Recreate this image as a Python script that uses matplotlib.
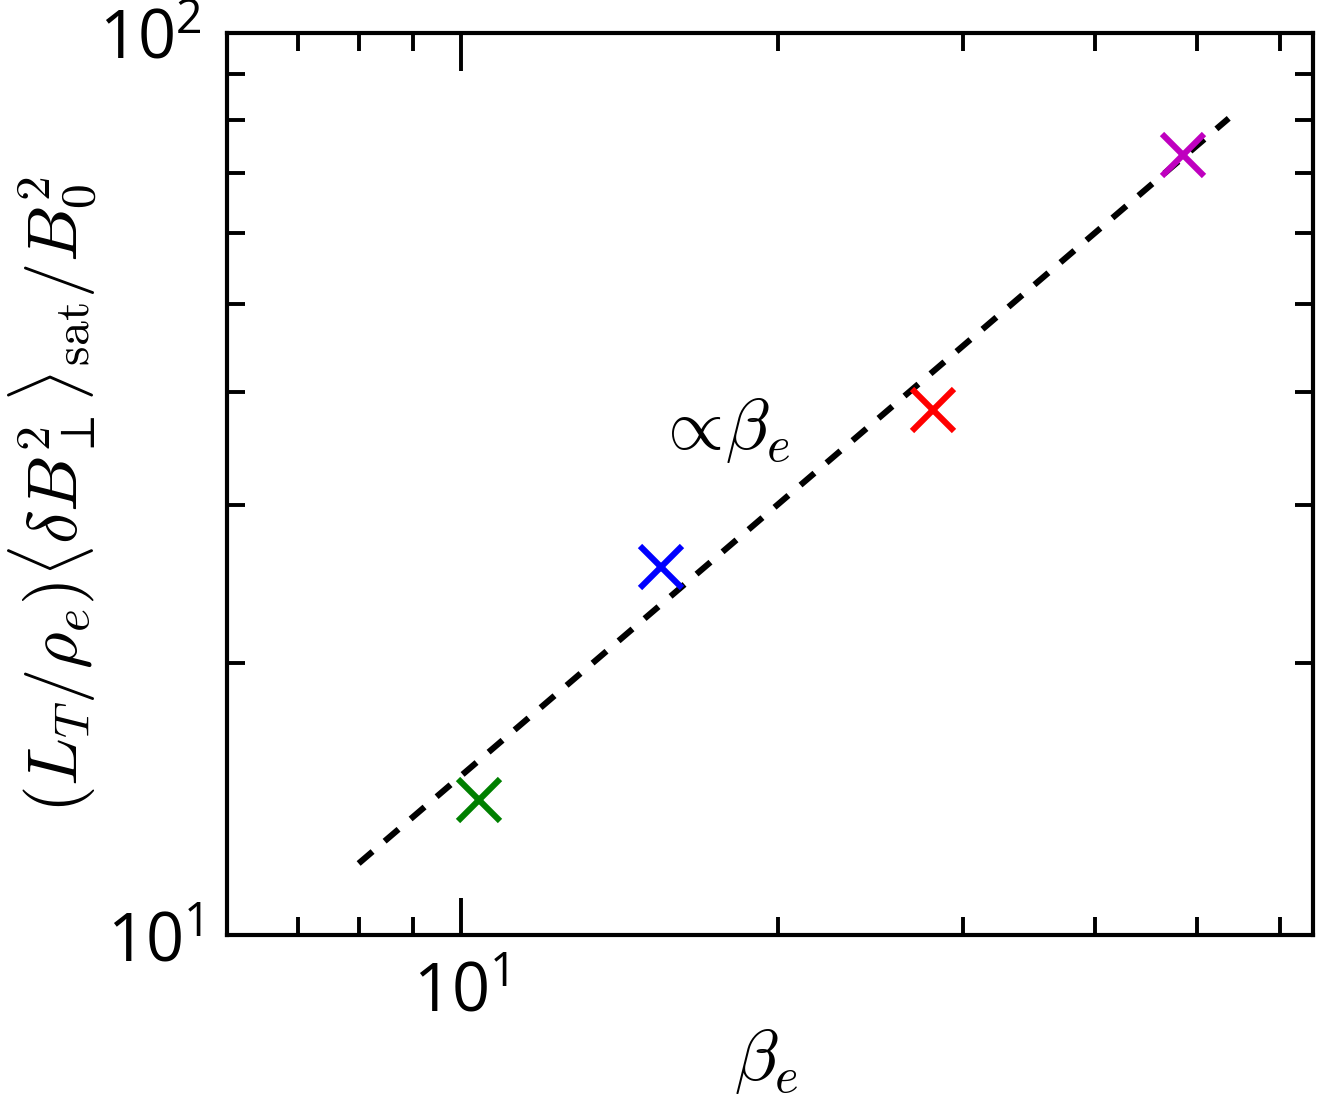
import numpy as np
import matplotlib
matplotlib.use("Agg")
import matplotlib.pyplot as plt

plt.rcParams['mathtext.fontset'] = 'cm'
plt.rcParams['font.family'] = ['Open Sans', 'DejaVu Sans']

# beta_e and saturated amplitude
beta_e = [10.4, 15.5, 28.1, 48.5]
dB2_sat = [14.1, 25.6, 38.2, 73.2]
colours = ['g', 'b', 'r', 'm']

# reference line proportional to beta_e
fit_beta = [8.0, 53.6]
fit_coef = 1.5

fig = plt.figure(figsize=(6.6, 5.48), dpi=200)
ax = fig.add_axes([0.172, 0.147, 0.823, 0.823])

fb = np.array(fit_beta)
ax.loglog(fb, fit_coef * fb, 'k--', lw=2.2, dashes=(3, 2.6))
for b, d, c in zip(beta_e, dB2_sat, colours):
    ax.loglog(b, d, 'x', color=c, ms=15, mew=2.2)

ax.text(15.3, 36.3, r'$\propto\!\beta_e$', fontsize=26, va='center', ha='left')

ax.set_xlim(6.0, 64.5)
ax.set_ylim(10, 100)
ax.set_xlabel(r'$\beta_e$', fontsize=26)
ax.set_ylabel(r'$(L_T/\rho_e)\langle\delta B_\perp^2\rangle_{\rm sat}/B_0^2$', fontsize=25.5)
ax.xaxis.set_label_coords(0.496, -0.1)
ax.yaxis.set_label_coords(-0.118, 0.488)

ax.tick_params(which='both', direction='in', top=True, right=True, width=1.4, labelsize=24)
ax.tick_params(which='major', length=13.5, pad=9)
ax.tick_params(which='minor', length=6.5, labelleft=False, labelbottom=False)
for s in ax.spines.values():
    s.set_linewidth(1.5)

fig.savefig('out.png', dpi=200)
